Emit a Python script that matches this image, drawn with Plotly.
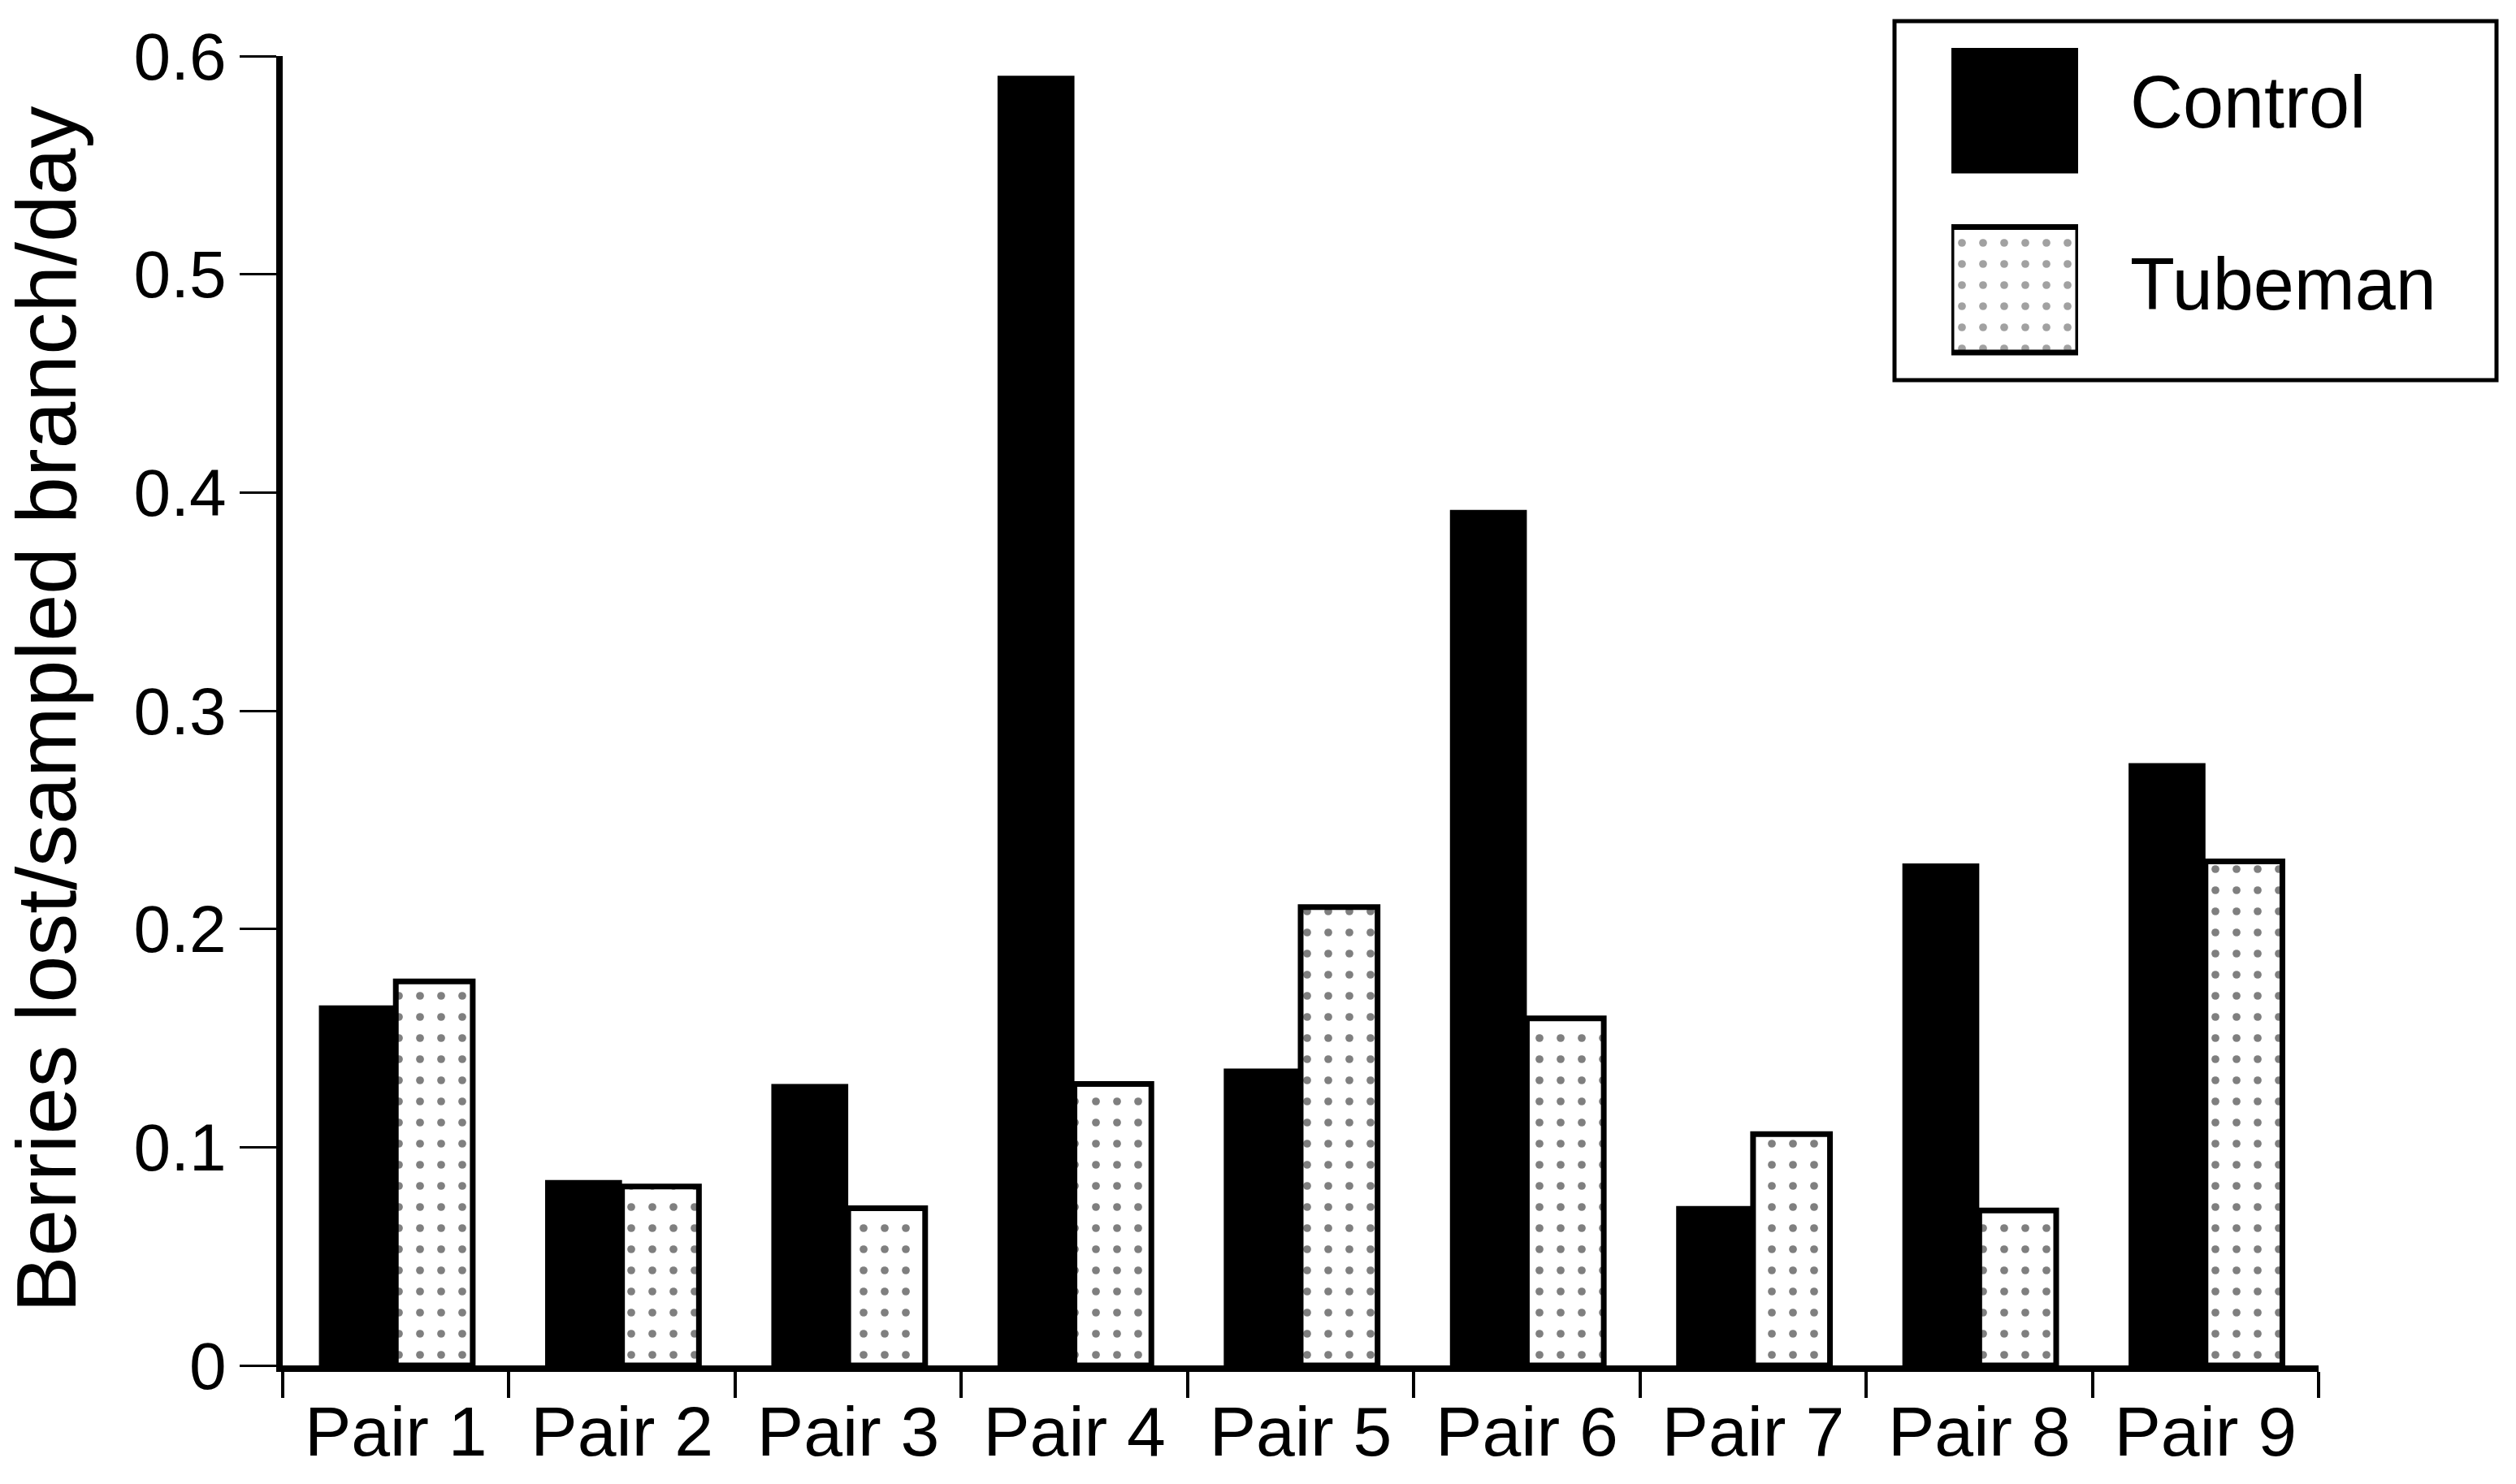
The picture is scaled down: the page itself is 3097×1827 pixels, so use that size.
"""Berries lost per sampled branch per day, Control vs Tubeman."""

import plotly.graph_objects as go

W, H = 3097, 1827

pairs = ["Pair 1", "Pair 2", "Pair 3", "Pair 4", "Pair 5",
         "Pair 6", "Pair 7", "Pair 8", "Pair 9"]
control = [0.165, 0.085, 0.129, 0.591, 0.136, 0.392, 0.073, 0.230, 0.276]
tubeman = [0.176, 0.082, 0.072, 0.129, 0.210, 0.159, 0.106, 0.071, 0.231]
series_names = ["Control", "Tubeman"]
y_ticks = [0, 0.1, 0.2, 0.3, 0.4, 0.5, 0.6]

FONT = "Liberation Sans, Arial, Helvetica, sans-serif"
DOTS = dict(shape=".", fgcolor="black", bgcolor="white", size=26, solidity=0.11)


def px_x(p):
    return p / W


def px_y(p):
    return (H - p) / H


fig = go.Figure()

fig.add_trace(
    go.Bar(
        x=pairs,
        y=control,
        name=series_names[0],
        marker=dict(color="black", line=dict(color="black", width=0)),
    )
)
fig.add_trace(
    go.Bar(
        x=pairs,
        y=tubeman,
        name=series_names[1],
        marker=dict(color="white", pattern=DOTS, line=dict(color="black", width=7)),
    )
)

# legend swatches drawn on a small side axis so the pattern can be shown large
fig.add_trace(
    go.Bar(
        y=series_names,
        x=[1, 1],
        orientation="h",
        width=0.7,
        xaxis="x2",
        yaxis="y2",
        marker=dict(
            color=["black", "white"],
            pattern=dict(shape=["", "."], fgcolor="black", bgcolor="white",
                         size=26, solidity=0.11),
            line=dict(color="black", width=[0, 7]),
        ),
        showlegend=False,
        hoverinfo="skip",
    )
)

fig.update_layout(
    width=W,
    height=H,
    margin=dict(l=0, r=0, t=0, b=0),
    paper_bgcolor="white",
    plot_bgcolor="white",
    showlegend=False,
    barmode="group",
    bargap=0.32,
    bargroupgap=0,
    font=dict(family=FONT, color="black"),
    xaxis=dict(
        domain=[px_x(348), px_x(2854)],
        range=[-0.5, 8.5],
        showline=True,
        linecolor="black",
        linewidth=8,
        ticks="outside",
        tickson="boundaries",
        ticklen=32,
        tickwidth=4,
        tickcolor="black",
        tickfont=dict(size=86, family=FONT, color="black"),
        showgrid=False,
        zeroline=False,
        automargin=False,
    ),
    yaxis=dict(
        domain=[px_y(1681), px_y(69)],
        range=[0, 0.6],
        tickvals=y_ticks,
        ticktext=[f"{v:g}" for v in y_ticks],
        showline=True,
        linecolor="black",
        linewidth=8,
        ticks="outside",
        ticklen=45,
        tickwidth=3,
        tickcolor="black",
        tickfont=dict(size=82, family=FONT, color="black"),
        showgrid=False,
        zeroline=False,
        automargin=False,
    ),
    xaxis2=dict(
        domain=[px_x(2402), px_x(2558)],
        range=[0, 1],
        visible=False,
        anchor="y2",
    ),
    yaxis2=dict(
        domain=[px_y(467), px_y(26)],
        range=[1.5, -0.5],
        visible=False,
        anchor="x2",
    ),
    shapes=[
        dict(
            type="rect",
            xref="paper",
            yref="paper",
            x0=px_x(2332),
            x1=px_x(3073),
            y0=px_y(468),
            y1=px_y(26),
            line=dict(color="black", width=5),
            fillcolor="rgba(0,0,0,0)",
            layer="above",
        )
    ],
    annotations=[
        dict(
            text="Berries lost/sampled branch/day",
            xref="paper",
            yref="paper",
            x=px_x(57),
            y=px_y(873),
            textangle=-90,
            showarrow=False,
            xanchor="center",
            yanchor="middle",
            font=dict(size=104, family=FONT, color="black"),
        ),
        dict(
            text=series_names[0],
            xref="paper",
            yref="paper",
            x=px_x(2620),
            y=px_y(126),
            showarrow=False,
            xanchor="left",
            yanchor="middle",
            font=dict(size=90, family=FONT, color="black"),
        ),
        dict(
            text=series_names[1],
            xref="paper",
            yref="paper",
            x=px_x(2620),
            y=px_y(350),
            showarrow=False,
            xanchor="left",
            yanchor="middle",
            font=dict(size=90, family=FONT, color="black"),
        ),
    ],
)

fig.write_html(
    "out.html",
    config={"displayModeBar": False},
    post_script="document.body.style.margin='0';",
)
